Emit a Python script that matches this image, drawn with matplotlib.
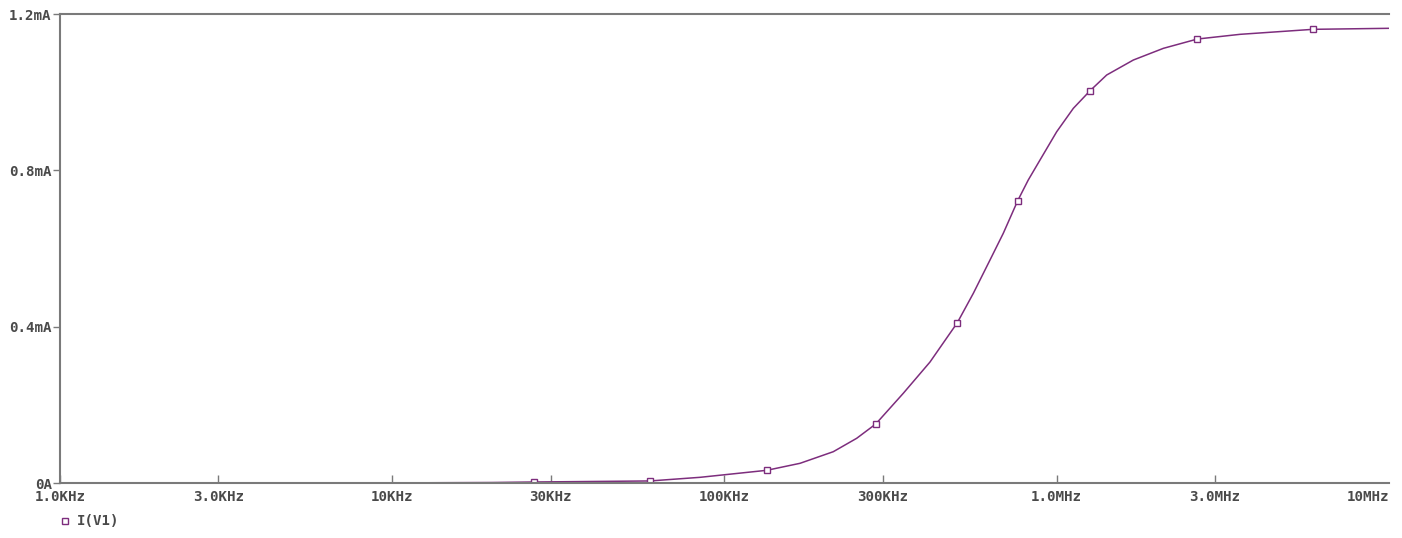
import numpy as np
import matplotlib
matplotlib.use("Agg")
import matplotlib.pyplot as plt
from matplotlib.lines import Line2D
from matplotlib.ticker import FixedLocator, NullLocator

# AC sweep of the source current I(V1), frequency in Hz, current in mA
freq_hz = [1.0e3, 5.0e3, 2.0e4, 2.67e4, 5.97e4, 8.45e4, 1.341e5, 1.689e5,
           2.127e5, 2.502e5, 2.855e5, 3.455e5, 4.157e5, 5.025e5,
           5.615e5, 6.302e5, 6.91e5, 7.637e5, 8.216e5, 8.913e5, 1.0007e6,
           1.123e6, 1.261e6, 1.415e6, 1.702e6, 2.096e6, 2.653e6, 3.565e6,
           5.912e6, 1.0e7]
current_ma = [0.0, 0.0, 0.002, 0.0033, 0.006, 0.0153, 0.0332, 0.0511,
              0.0808, 0.1151, 0.1516, 0.2301, 0.31, 0.4106,
              0.4858, 0.5709, 0.6392, 0.7226, 0.7755, 0.8266, 0.899,
              0.9588, 1.0038, 1.044, 1.0823, 1.1122, 1.136, 1.148,
              1.1608, 1.1634]

# probe markers along the trace
marker_freq_hz = [2.67e4, 5.97e4, 1.341e5, 2.855e5, 5.025e5, 7.637e5,
                  1.261e6, 2.653e6, 5.912e6]
marker_current_ma = [0.0033, 0.006, 0.0332, 0.1516, 0.4106, 0.7226,
                     1.0038, 1.136, 1.1608]

x_ticks = [1e3, 3e3, 1e4, 3e4, 1e5, 3e5, 1e6, 3e6, 1e7]
x_labels = ["1.0KHz", "3.0KHz", "10KHz", "30KHz", "100KHz", "300KHz",
            "1.0MHz", "3.0MHz", "10MHz"]
y_ticks = [0.0, 0.4, 0.8, 1.2]
y_labels = ["0A", "0.4mA", "0.8mA", "1.2mA"]

trace_color = "#7d2d7d"
axis_color = "#7a7a7a"
text_color = "#4a4a4a"
font = dict(family="DejaVu Sans Mono", weight="bold", size=10.2, color=text_color)

fig = plt.figure(figsize=(14.02, 5.38), dpi=100)
ax = fig.add_axes([60 / 1402, 1 - 483.3 / 538, 1328.8 / 1402, 469.3 / 538])

ax.plot(freq_hz, current_ma, color=trace_color, lw=1.1)
ax.plot(marker_freq_hz, marker_current_ma, ls="none", marker="s", ms=4.5,
        mfc="white", mec=trace_color, mew=1.0)

ax.set_xscale("log")
ax.set_xlim(1e3, 1e7)
ax.set_ylim(0, 1.2)

ax.xaxis.set_major_locator(FixedLocator(x_ticks))
ax.xaxis.set_minor_locator(NullLocator())
ax.set_xticklabels(x_labels, fontdict=font)
ax.set_yticks(y_ticks)
ax.set_yticklabels(y_labels, fontdict=font)
ax.get_xticklabels()[-1].set_horizontalalignment("right")
ax.xaxis.get_major_ticks()[-1].tick1line.set_visible(False)

ax.tick_params(axis="x", direction="in", length=6, width=1, color=axis_color, pad=5)
ax.tick_params(axis="y", direction="out", length=5, width=1, color=axis_color, pad=1)

for side in ["left", "top", "bottom"]:
    ax.spines[side].set_color(axis_color)
    ax.spines[side].set_linewidth(1.5)
ax.spines["right"].set_visible(False)

# legend entry below the axis
fig.add_artist(Line2D([65 / 1402], [1 - 521 / 538], transform=fig.transFigure,
                      ls="none", marker="s", ms=4.5, mfc="white",
                      mec=trace_color, mew=1.0))
fig.text(77 / 1402, 1 - 521 / 538, "I(V1)", ha="left", va="center", **font)

fig.savefig("out.png", dpi=100, facecolor="white")
